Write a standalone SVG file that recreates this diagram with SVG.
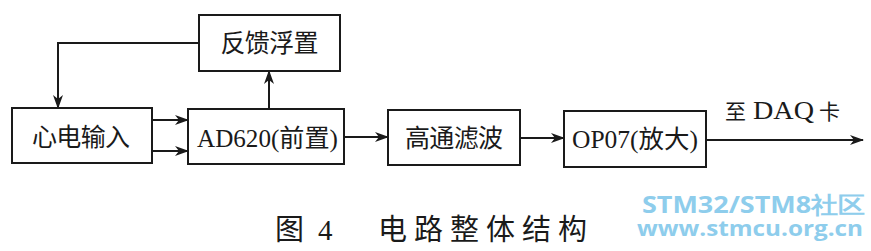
<svg xmlns="http://www.w3.org/2000/svg" width="871" height="251" viewBox="0 0 871 251">
<style>
.box{fill:#fff;stroke:#1a1a1a;stroke-width:2}
.lbl{font-family:"Liberation Serif","Noto Sans CJK SC",serif;font-size:25px;fill:#1a1a1a;text-anchor:middle}
.wire{fill:none;stroke:#1a1a1a;stroke-width:2}
.wm{font-family:"Open Sans","DejaVu Sans",sans-serif;font-weight:bold;fill:#8ecdec}
</style>
<defs>
<marker id="arr" viewBox="0 0 14 10" refX="13" refY="5" markerWidth="14" markerHeight="10" markerUnits="userSpaceOnUse" orient="auto">
<path d="M0,0 L14,5 L0,10 L4,5 Z" fill="#1a1a1a"/>
</marker>
</defs>
<rect width="871" height="251" fill="#fff"/>
<g id="connectors">
<path class="wire" d="M199,43 H58 V108" marker-end="url(#arr)"/>
<path class="wire" d="M152,120 H188" marker-end="url(#arr)"/>
<path class="wire" d="M152,151 H188" marker-end="url(#arr)"/>
<path class="wire" d="M269,109 V71" marker-end="url(#arr)"/>
<path class="wire" d="M344,137 H388" marker-end="url(#arr)"/>
<path class="wire" d="M520,138 H564" marker-end="url(#arr)"/>
<path class="wire" d="M706,140 H863" marker-end="url(#arr)"/>
</g>
<g id="feedback">
<rect class="box" x="199" y="15" width="141" height="56"/>
<text class="lbl" x="269.5" y="52" textLength="98" lengthAdjust="spacing">反馈浮置</text>
</g>
<g id="ecg-input">
<rect class="box" x="12" y="108" width="140" height="55"/>
<text class="lbl" x="81" y="146" textLength="98" lengthAdjust="spacing">心电输入</text>
</g>
<g id="ad620">
<rect class="box" x="188" y="109" width="156" height="55"/>
<text class="lbl" x="267.5" y="147" textLength="141" lengthAdjust="spacingAndGlyphs">AD620(前置)</text>
</g>
<g id="highpass">
<rect class="box" x="388" y="110" width="132" height="55"/>
<text class="lbl" x="454" y="147" textLength="98" lengthAdjust="spacing">高通滤波</text>
</g>
<g id="op07">
<rect class="box" x="564" y="111" width="142" height="56"/>
<text class="lbl" x="635" y="148" textLength="126" lengthAdjust="spacingAndGlyphs">OP07(放大)</text>
</g>
<g id="output-label">
<text y="119" font-family="Liberation Serif,'Noto Sans CJK SC',serif" fill="#1a1a1a"><tspan x="725" font-size="21">至</tspan><tspan x="753" font-size="25" textLength="61" lengthAdjust="spacingAndGlyphs">DAQ</tspan><tspan x="819" font-size="21">卡</tspan></text>
</g>
<g id="caption">
<text y="240" font-family="Liberation Serif,'Noto Sans CJK SC',serif" font-size="29" fill="#1a1a1a"><tspan x="275">图</tspan><tspan x="318">4</tspan><tspan x="378" letter-spacing="7">电路整体结构</tspan></text>
</g>
<g id="watermark">
<text class="wm"><tspan x="642" y="213" font-size="23" textLength="223" lengthAdjust="spacingAndGlyphs">STM32/STM8社区</tspan><tspan x="637" y="236" font-size="22" textLength="226" lengthAdjust="spacingAndGlyphs">www.stmcu.org.cn</tspan></text>
</g>
</svg>
